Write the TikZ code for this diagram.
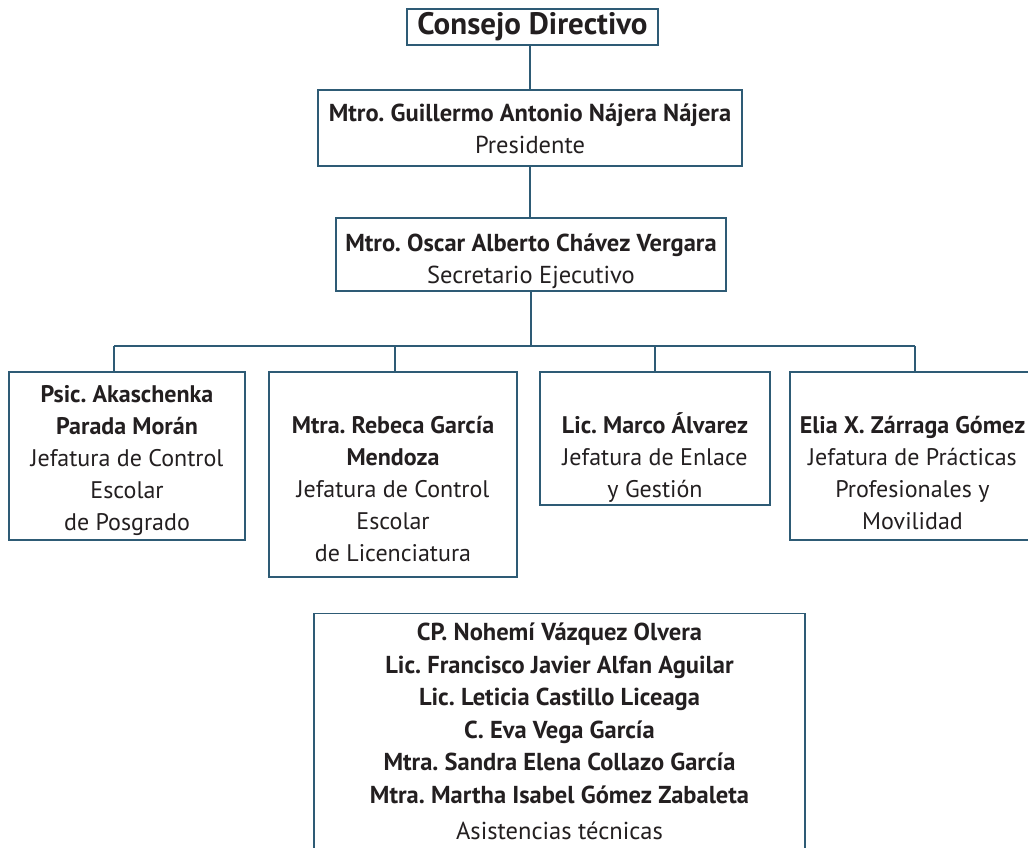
\documentclass[tikz,border=0pt]{standalone}
\usepackage{fontspec}
\setmainfont{PT Sans}
\frenchspacing
\definecolor{edge}{HTML}{2E5B75}
\definecolor{ink}{HTML}{231F20}
\newcommand\myup[1]{\rule{0pt}{#1pt}}
\newcommand\mydn[1]{\rule[-#1pt]{0pt}{#1pt}}
\begin{document}
\begin{tikzpicture}[x=1pt,y=-1pt,
  box/.style={draw=edge,line width=1.1pt,fill=white,text=ink,align=center,inner sep=0pt,
    font=\fontsize{24}{32}\selectfont},
  conn/.style={draw=edge,line width=1.1pt}]
\useasboundingbox (0,0) rectangle (1028,847);
\node[box,minimum width=251pt,minimum height=36pt,font=\fontsize{31}{32}\selectfont\bfseries] (consejo) at (532.5,27) {Consejo Directivo};
\node[box,minimum width=424pt,minimum height=76pt,font=\fontsize{24.5}{32}\selectfont] (pres) at (530,128) {\myup{31}\textbf{Mtro. Guillermo Antonio Nájera Nájera}\\Presidente\mydn{13}};
\node[box,minimum width=390pt,minimum height=73pt,font=\fontsize{24.5}{32}\selectfont] (sec) at (531,254.5) {\myup{33}\textbf{Mtro. Oscar Alberto Chávez Vergara}\\Secretario Ejecutivo\mydn{8}};
\node[box,minimum width=236pt,minimum height=168pt] (b1) at (127,456) {\myup{30}\textbf{Psic. Akaschenka}\\\textbf{Parada Morán}\\Jefatura de Control\\Escolar\\de Posgrado\mydn{10}};
\node[box,minimum width=248pt,minimum height=205pt] (b2) at (393,474.5) {\myup{60}\textbf{Mtra. Rebeca García}\\\textbf{Mendoza}\\Jefatura de Control\\Escolar\\de Licenciatura\mydn{15}};
\node[box,minimum width=230pt,minimum height=133pt] (b3) at (655,438.5) {\myup{60}\textbf{Lic. Marco Álvarez}\\Jefatura de Enlace\\y Gestión\mydn{7}};
\node[box,minimum width=245pt,minimum height=168pt] (b4) at (912.5,456) {\myup{61}\textbf{Elia X. Zárraga Gómez}\\Jefatura de Prácticas\\Profesionales y\\Movilidad\mydn{11}};
\node[box,minimum width=491pt,minimum height=260pt,anchor=north,font=\fontsize{24.5}{32.6}\selectfont] (tec) at (559.5,613) {\myup{20}\textbf{CP. Nohemí Vázquez Olvera}\\\textbf{Lic. Francisco Javier Alfan Aguilar}\\\textbf{Lic. Leticia Castillo Liceaga}\\\textbf{C. Eva Vega García}\\\textbf{Mtra. Sandra Elena Collazo García}\\\textbf{Mtra. Martha Isabel Gómez Zabaleta}\\[3pt]Asistencias técnicas\mydn{27.4}};
\coordinate (hub) at (531,346);
\coordinate (h1) at (114,346);
\coordinate (h2) at (395,346);
\coordinate (h3) at (655,346);
\coordinate (h4) at (915,346);
\draw[conn] (consejo.south -| pres.north) -- (pres.north);
\draw[conn] (pres.south) -- (pres.south |- sec.north);
\draw[conn] (sec.south -| hub) -- (hub);
\draw[conn] (h1) -- (h4);
\draw[conn] (h1) -- (h1 |- b1.north);
\draw[conn] (h2) -- (h2 |- b2.north);
\draw[conn] (h3) -- (h3 |- b3.north);
\draw[conn] (h4) -- (h4 |- b4.north);
\end{tikzpicture}
\end{document}
